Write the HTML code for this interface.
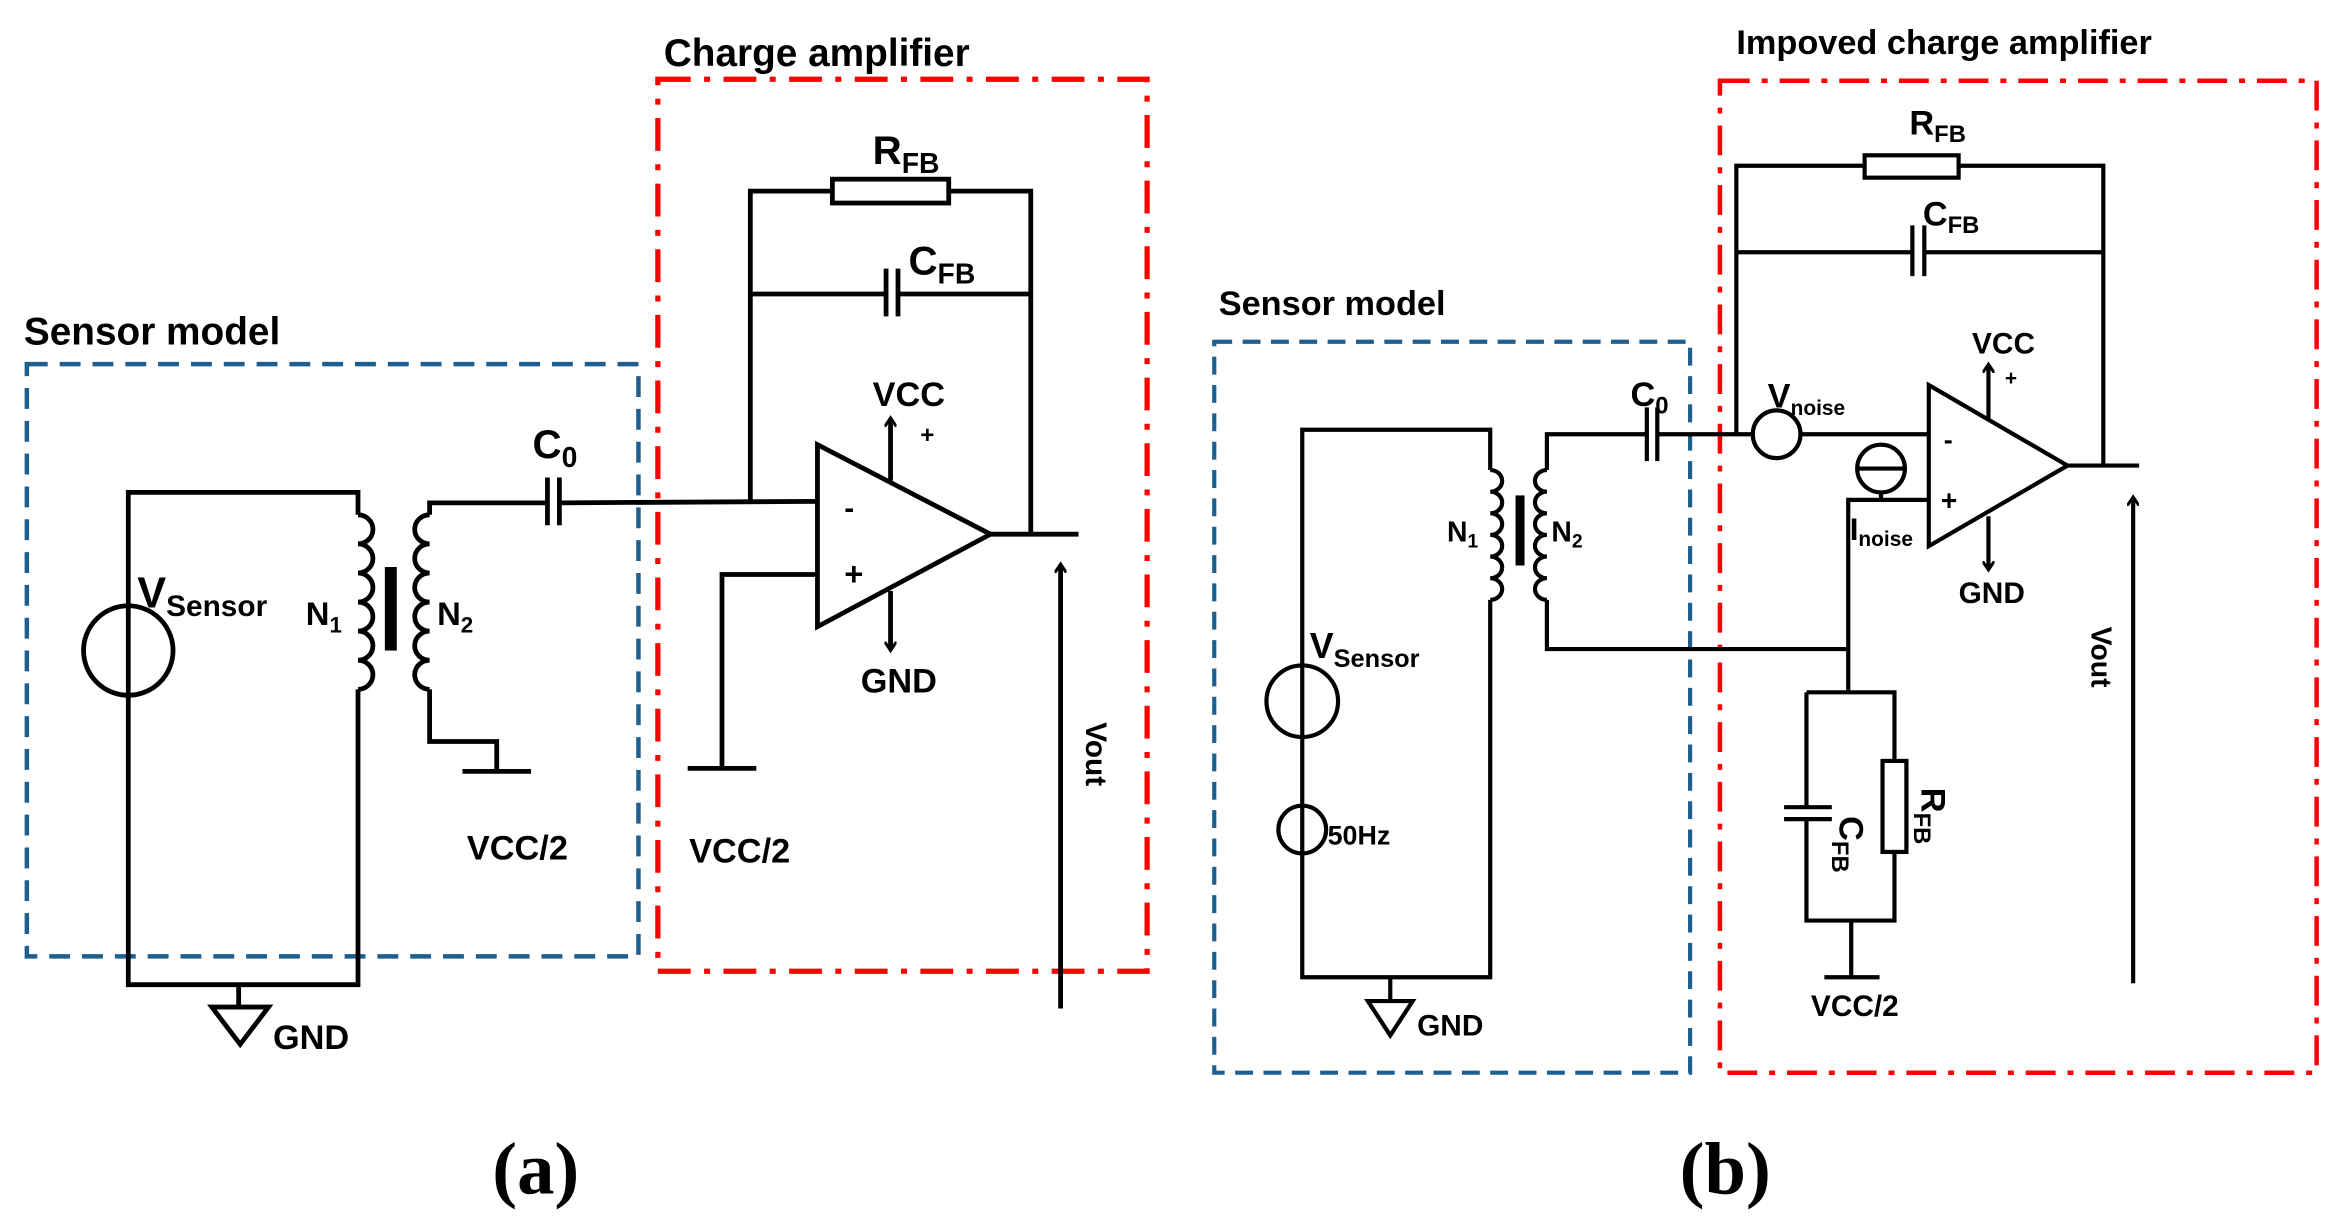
<!DOCTYPE html>
<html><head><meta charset="utf-8"><style>
html,body{margin:0;padding:0;background:#fff;}
svg{display:block;}
text{font-family:"Liberation Sans",sans-serif;font-weight:bold;fill:#000;}
</style></head><body>
<svg width="2339" height="1228" viewBox="0 0 1568 823" xmlns="http://www.w3.org/2000/svg">
<defs>
<marker id="ah" markerWidth="8" markerHeight="8" refX="4" refY="4" orient="auto" markerUnits="userSpaceOnUse"><path d="M0,0 L6,4 L0,8" fill="none" stroke="#000" stroke-width="2"/></marker>
</defs>
<g fill="none" stroke-linecap="butt">
<!-- ===== Panel (a) ===== -->
<rect x="441" y="53" width="328" height="598" stroke="#f00" stroke-width="3.5" stroke-dasharray="22,9,4,9"/>
<rect x="18" y="244" width="410" height="397" stroke="#1f5f8f" stroke-width="3" stroke-dasharray="14,8"/>
<g stroke="#000" stroke-width="3.2">
<path d="M240,345 L240,330 L86,330 L86,660 L240,660 L240,462"/>
<circle cx="86" cy="436" r="30"/>
<path d="M240,345 a10,9.75 0 0 1 0,19.5 a10,9.75 0 0 1 0,19.5 a10,9.75 0 0 1 0,19.5 a10,9.75 0 0 1 0,19.5 a10,9.75 0 0 1 0,19.5 a10,9.75 0 0 1 0,19.5"/>
<path d="M288,345 a10,9.75 0 0 0 0,19.5 a10,9.75 0 0 0 0,19.5 a10,9.75 0 0 0 0,19.5 a10,9.75 0 0 0 0,19.5 a10,9.75 0 0 0 0,19.5 a10,9.75 0 0 0 0,19.5"/>
<path d="M160,660 L160,675 M142,675 L180,675 L161,700 Z"/>
<path d="M288,345 L288,337 L367,337 M367,320 L367,352 M375,320 L375,352 M375,337 L548,336"/>
<path d="M288,462 L288,497 L333,497 L333,517 M310,517 L356,517"/>
<path d="M503,336 L503,128 L558,128 M636,128 L691,128 L691,358"/>
<rect x="558" y="120" width="78" height="16"/>
<path d="M503,197 L594,197 M594,180 L594,212 M602,180 L602,212 M602,197 L691,197"/>
<path d="M548,298 L548,420 L664,358 Z"/>
<path d="M664,358 L723,358"/>
<path d="M548,385 L484,385 L484,515 M461,515 L507,515"/>
<path d="M597,322 L597,282" marker-end="url(#ah)"/>
<path d="M597,396 L597,434" marker-end="url(#ah)"/>
<path d="M711,676 L711,380" marker-end="url(#ah)"/>
</g>
<rect x="258" y="380" width="8" height="56" fill="#000"/>
<!-- ===== Panel (b) ===== -->
<rect x="1153" y="54" width="400" height="665" stroke="#f00" stroke-width="3" stroke-dasharray="20,8,4,8"/>
<rect x="814" y="229" width="319" height="490" stroke="#1f5f8f" stroke-width="2.8" stroke-dasharray="12,7"/>
<g stroke="#000" stroke-width="2.8">
<path d="M999,315 L999,288 L873,288 L873,655 L999,655 L999,402"/>
<circle cx="873" cy="470" r="24"/>
<circle cx="873" cy="556" r="16"/>
<path d="M999,315 a8,7.25 0 0 1 0,14.5 a8,7.25 0 0 1 0,14.5 a8,7.25 0 0 1 0,14.5 a8,7.25 0 0 1 0,14.5 a8,7.25 0 0 1 0,14.5 a8,7.25 0 0 1 0,14.5"/>
<path d="M1037,315 a8,7.25 0 0 0 0,14.5 a8,7.25 0 0 0 0,14.5 a8,7.25 0 0 0 0,14.5 a8,7.25 0 0 0 0,14.5 a8,7.25 0 0 0 0,14.5 a8,7.25 0 0 0 0,14.5"/>
<path d="M932,655 L932,671 M917,671 L947,671 L932,694 Z"/>
<path d="M1037,315 L1037,291 L1104,291 M1104,273 L1104,309 M1111,273 L1111,309 M1111,291 L1175,291 M1207,291 L1293,291"/>
<circle cx="1191" cy="291" r="16"/>
<path d="M1037,402 L1037,435 L1239,435"/>
<path d="M1164,291 L1164,111 L1250,111 M1313,111 L1410,111 L1410,312"/>
<rect x="1250" y="104" width="63" height="15"/>
<path d="M1164,169 L1282,169 M1282,151 L1282,185 M1290,151 L1290,185 M1290,169 L1410,169"/>
<path d="M1293,258 L1293,366 L1386,312 Z"/>
<path d="M1386,312 L1434,312"/>
<circle cx="1261" cy="314" r="16"/>
<path d="M1245,314 L1277,314"/>
<path d="M1239,464 L1239,335 L1293,335 M1261,330 L1261,335"/>
<path d="M1211,464 L1270,464 L1270,510 M1270,571 L1270,617 L1211,617 L1211,549 M1211,541 L1211,464"/>
<path d="M1196,541 L1228,541 M1196,549 L1228,549"/>
<rect x="1262" y="510" width="16" height="61"/>
<path d="M1241,617 L1241,655 M1223,655 L1260,655"/>
<path d="M1333,281 L1333,246" marker-end="url(#ah)"/>
<path d="M1333,346 L1333,380" marker-end="url(#ah)"/>
<path d="M1430,659 L1430,335" marker-end="url(#ah)"/>
</g>
<rect x="1016" y="332" width="6" height="47" fill="#000"/>
</g>
<!-- Text (a) -->
<text x="445" y="44" font-size="26">Charge amplifier</text>
<text x="16" y="231" font-size="26">Sensor model</text>
<text x="92" y="407" font-size="29">V<tspan font-size="20" dy="6">Sensor</tspan></text>
<text x="205" y="419" font-size="22">N<tspan font-size="15" dy="5">1</tspan></text>
<text x="293" y="419" font-size="22">N<tspan font-size="15" dy="5">2</tspan></text>
<text x="357" y="307" font-size="27">C<tspan font-size="19" dy="6">0</tspan></text>
<text x="585" y="110" font-size="27">R<tspan font-size="19" dy="6">FB</tspan></text>
<text x="609" y="184" font-size="27">C<tspan font-size="19" dy="6">FB</tspan></text>
<text x="585" y="272" font-size="23">VCC</text>
<text x="617" y="297" font-size="16">+</text>
<text x="566" y="347" font-size="20">-</text>
<text x="566" y="392" font-size="22">+</text>
<text x="577" y="464" font-size="23">GND</text>
<text x="313" y="576" font-size="23">VCC/2</text>
<text x="462" y="578" font-size="23">VCC/2</text>
<text x="183" y="703" font-size="23">GND</text>
<text transform="translate(728,484) rotate(90)" font-size="20">Vout</text>
<text x="330" y="800" font-size="50" style="font-family:'Liberation Serif',serif;font-weight:bold">(a)</text>
<!-- Text (b) -->
<text x="1164" y="36" font-size="23">Impoved charge amplifier</text>
<text x="817" y="211" font-size="23">Sensor model</text>
<text x="878" y="441" font-size="24">V<tspan font-size="17" dy="6">Sensor</tspan></text>
<text x="890" y="566" font-size="18">50Hz</text>
<text x="970" y="363" font-size="19">N<tspan font-size="13" dy="4">1</tspan></text>
<text x="1040" y="363" font-size="19">N<tspan font-size="13" dy="4">2</tspan></text>
<text x="1093" y="272" font-size="23">C<tspan font-size="16" dy="5">0</tspan></text>
<text x="1185" y="273" font-size="23">V<tspan font-size="14" dy="5">noise</tspan></text>
<text x="1240" y="362" font-size="21">I<tspan font-size="14" dy="4">noise</tspan></text>
<text x="1280" y="90" font-size="23">R<tspan font-size="16" dy="5">FB</tspan></text>
<text x="1289" y="151" font-size="23">C<tspan font-size="16" dy="5">FB</tspan></text>
<text x="1322" y="237" font-size="20">VCC</text>
<text x="1344" y="258" font-size="14">+</text>
<text x="1303" y="301" font-size="18">-</text>
<text x="1301" y="342" font-size="19">+</text>
<text x="1313" y="404" font-size="20">GND</text>
<text x="1214" y="681" font-size="20">VCC/2</text>
<text x="950" y="694" font-size="20">GND</text>
<text transform="translate(1402,420) rotate(90)" font-size="19">Vout</text>
<text transform="translate(1233,547) rotate(90)" font-size="23">C<tspan font-size="16" dy="5">FB</tspan></text>
<text transform="translate(1288,528) rotate(90)" font-size="23">R<tspan font-size="16" dy="5">FB</tspan></text>
<text x="1126" y="800" font-size="50" style="font-family:'Liberation Serif',serif;font-weight:bold">(b)</text>
</svg>
</body></html>
